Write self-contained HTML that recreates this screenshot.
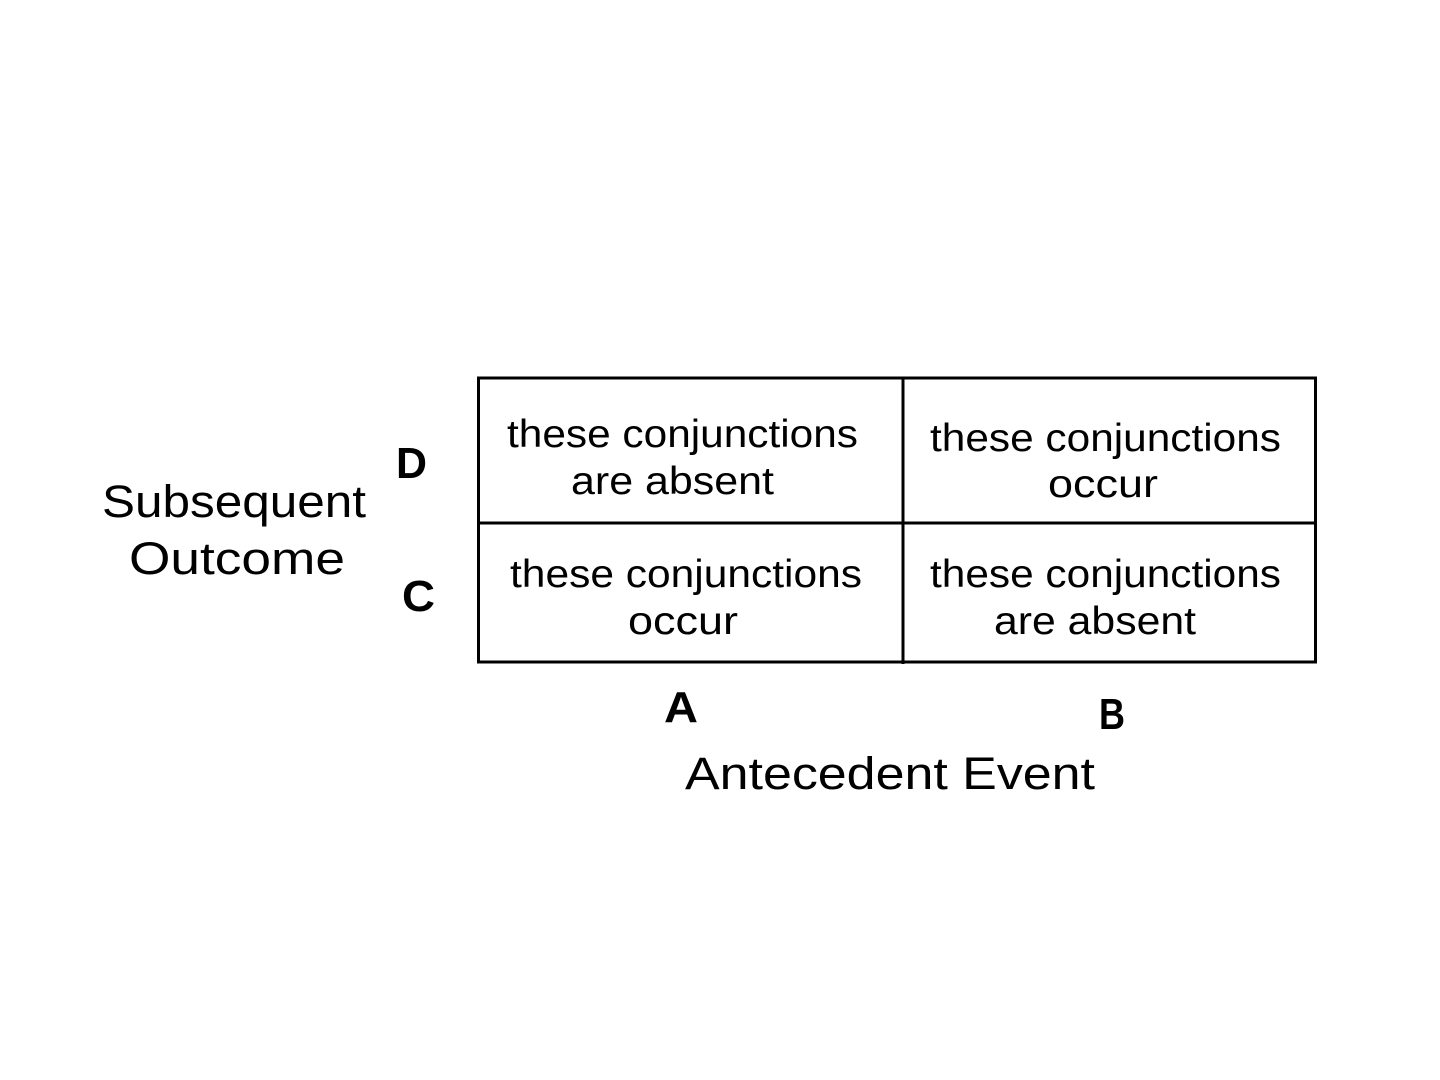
<!DOCTYPE html>
<html><head><meta charset="utf-8"><style>
html,body{margin:0;padding:0;background:#fff;}
svg{display:block;}
text{font-family:"Liberation Sans",sans-serif;fill:#000;}
</style></head><body>
<svg width="1440" height="1080" viewBox="0 0 1440 1080" xmlns="http://www.w3.org/2000/svg">
<rect x="478.5" y="378" width="837" height="284" fill="none" stroke="#000" stroke-width="3"/>
<line x1="903" y1="378" x2="903" y2="664" stroke="#000" stroke-width="3"/>
<line x1="478" y1="523" x2="1316" y2="523" stroke="#000" stroke-width="3"/>

<g font-size="39">
<text x="507" y="447" textLength="351" lengthAdjust="spacingAndGlyphs">these conjunctions</text>
<text x="571" y="494" textLength="203" lengthAdjust="spacingAndGlyphs">are absent</text>
<text x="930" y="451" textLength="351" lengthAdjust="spacingAndGlyphs">these conjunctions</text>
<text x="1048" y="497" textLength="110" lengthAdjust="spacingAndGlyphs">occur</text>
<text x="510" y="587" textLength="352" lengthAdjust="spacingAndGlyphs">these conjunctions</text>
<text x="628" y="634" textLength="110" lengthAdjust="spacingAndGlyphs">occur</text>
<text x="930" y="587" textLength="351" lengthAdjust="spacingAndGlyphs">these conjunctions</text>
<text x="994" y="634" textLength="202" lengthAdjust="spacingAndGlyphs">are absent</text>
</g>

<g font-size="45">
<text x="102" y="517" textLength="264" lengthAdjust="spacingAndGlyphs">Subsequent</text>
<text x="129" y="574" textLength="216" lengthAdjust="spacingAndGlyphs">Outcome</text>
<text x="685" y="789" textLength="410" lengthAdjust="spacingAndGlyphs">Antecedent Event</text>
</g>

<g font-size="44" font-weight="bold">
<text x="396" y="478" textLength="31" lengthAdjust="spacingAndGlyphs">D</text>
<text x="402" y="611" textLength="33" lengthAdjust="spacingAndGlyphs">C</text>
<text x="664" y="722" textLength="34" lengthAdjust="spacingAndGlyphs">A</text>
<text x="1099" y="729" textLength="26" lengthAdjust="spacingAndGlyphs">B</text>
</g>
</svg>
</body></html>
